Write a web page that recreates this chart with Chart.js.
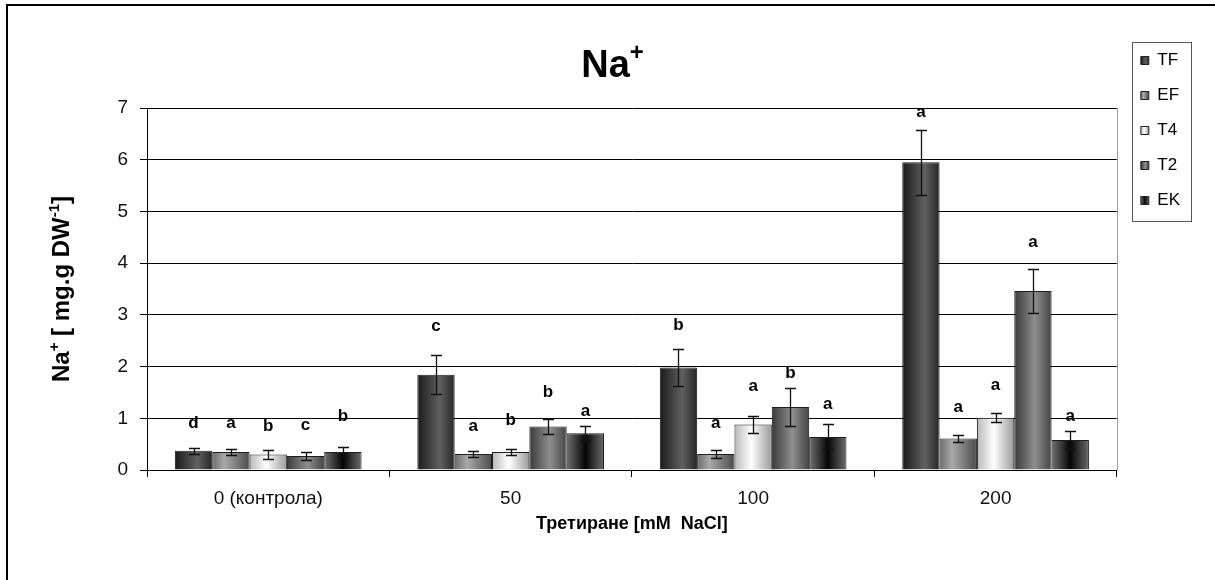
<!DOCTYPE html>
<html><head><meta charset="utf-8">
<script src="https://cdn.jsdelivr.net/npm/chart.js@4.4.1/dist/chart.umd.min.js"></script>
<style>html,body{margin:0;padding:0;background:#fff}canvas{display:block}</style>
</head><body>
<canvas id="c" width="1215" height="580"></canvas>
<script>
// ---------- data ----------
const categories = ['0 (контрола)', '50', '100', '200'];
const seriesNames = ['TF', 'EF', 'T4', 'T2', 'EK'];
const TF = [0.37, 1.84, 1.98, 5.95];
const EF = [0.35, 0.31, 0.31, 0.61];
const T4 = [0.30, 0.35, 0.88, 1.01];
const T2 = [0.27, 0.84, 1.22, 3.46];
const EK = [0.35, 0.71, 0.64, 0.58];
const TF_err = [0.06, 0.38, 0.36, 0.63];
const EF_err = [0.06, 0.05, 0.07, 0.075];
const T4_err = [0.08, 0.065, 0.17, 0.09];
const T2_err = [0.07, 0.14, 0.37, 0.43];
const EK_err = [0.09, 0.14, 0.24, 0.18];
const TF_letters = ['d', 'c', 'b', 'a'];
const EF_letters = ['a', 'a', 'a', 'a'];
const T4_letters = ['b', 'b', 'a', 'a'];
const T2_letters = ['c', 'b', 'b', 'a'];
const EK_letters = ['b', 'a', 'a', 'a'];
// height (in axis units) at which each significance letter sits
const TF_letterAt = [0.91, 2.77, 2.80, 6.92];
const EF_letterAt = [0.90, 0.84, 0.90, 1.21];
const T4_letterAt = [0.85, 0.97, 1.62, 1.64];
const T2_letterAt = [0.87, 1.51, 1.87, 4.40];
const EK_letterAt = [1.03, 1.13, 1.27, 1.03];
const yTickLabels = ['0', '1', '2', '3', '4', '5', '6', '7'];
const xTitle = 'Третиране [mM  NaCl]';

const seriesValues = [TF, EF, T4, T2, EK];
const seriesErrors = [TF_err, EF_err, T4_err, T2_err, EK_err];
const seriesLetters = [TF_letters, EF_letters, T4_letters, T2_letters, EK_letters];
const seriesLetterAt = [TF_letterAt, EF_letterAt, T4_letterAt, T2_letterAt, EK_letterAt];

// ---------- styles ----------
const FONT = '"Liberation Sans", Arial, sans-serif';
const CAT_PCT = 0.77;
const LEGEND_PAD = 18;
const LEGEND_BOX = 8;
const gradStops = [
  [[0, '#1a1a1a'], [0.6, '#606060'], [1, '#262626']],
  [[0, '#6c6c6c'], [0.33, '#a9a9a9'], [1, '#4c4c4c']],
  [[0, '#b8b8b8'], [0.45, '#ffffff'], [1, '#9a9a9a']],
  [[0, '#3a3a3a'], [0.55, '#8e8e8e'], [1, '#444444']],
  [[0, '#717171'], [0.5, '#050505'], [1, '#6c6c6c']]
];

function makeGradient(c, x0, x1, stops) {
  if (!isFinite(x0) || !isFinite(x1) || x1 === x0) return stops[1][1];
  const g = c.createLinearGradient(x0, 0, x1, 0);
  stops.forEach(s => g.addColorStop(s[0], s[1]));
  return g;
}

function barFill(ctx) {
  const chart = ctx.chart;
  const xs = chart.scales && chart.scales.x;
  const stops = gradStops[ctx.datasetIndex];
  if (!xs || !chart.chartArea || ctx.dataIndex === undefined) return stops[1][1];
  const catW = xs.width / categories.length;
  const groupW = catW * CAT_PCT;
  const barW = groupW / seriesNames.length;
  const left = xs.getPixelForValue(ctx.dataIndex) - groupW / 2 + ctx.datasetIndex * barW;
  return makeGradient(chart.ctx, left, left + barW, stops);
}

const decor = {
  id: 'decor',
  afterLayout(chart) {
    const lg = chart.legend, ca = chart.chartArea;
    if (!lg) return;
    const w = lg.width, h = lg.height;
    lg.left = ca.right + 6; lg.right = lg.left + w;
    lg.top = ca.top - 74; lg.bottom = lg.top + h;
  },
  afterDatasetsDraw(chart) {
    const c = chart.ctx, ys = chart.scales.y;
    chart.data.datasets.forEach((ds, di) => {
      const meta = chart.getDatasetMeta(di);
      meta.data.forEach((bar, i) => {
        const v = ds.data[i], e = seriesErrors[di][i];
        const yTop = Math.round(ys.getPixelForValue(v + e)) + 0.5;
        const yBot = Math.round(ys.getPixelForValue(v - e)) + 0.5;
        const x = Math.round(bar.x) + 0.5;
        c.save();
        c.strokeStyle = '#111';
        c.lineWidth = 1.3;
        c.beginPath();
        c.moveTo(x, yTop); c.lineTo(x, yBot);
        c.moveTo(x - 5.5, yTop); c.lineTo(x + 5.5, yTop);
        c.moveTo(x - 5.5, yBot); c.lineTo(x + 5.5, yBot);
        c.stroke();
        c.font = 'bold 17px ' + FONT;
        c.fillStyle = '#000';
        c.textAlign = 'center';
        c.textBaseline = 'middle';
        c.fillText(seriesLetters[di][i], bar.x, ys.getPixelForValue(seriesLetterAt[di][i]));
        c.restore();
      });
    });
  },
  afterDraw(chart) {
    const c = chart.ctx, ca = chart.chartArea;
    c.save();
    c.strokeStyle = '#9a9a9a';
    c.lineWidth = 1;
    c.beginPath();
    c.moveTo(Math.round(ca.right) + 0.5, ca.top);
    c.lineTo(Math.round(ca.right) + 0.5, ca.bottom);
    c.stroke();
    const lg = chart.legend;
    if (lg && lg.legendHitBoxes && lg.legendHitBoxes.length) {
      const hb = lg.legendHitBoxes;
      const l = Math.round(hb[0].left - 9) + 0.5;
      const t = Math.round(hb[0].top - 10) + 0.5;
      const last = hb[hb.length - 1];
      const b = Math.round(last.top + last.height + 12) + 0.5;
      c.strokeStyle = '#555';
      c.strokeRect(l, t, 59, b - t);
    }
    c.fillStyle = '#000';
    c.fillRect(6, 4, 2, chart.height - 4);
    c.fillRect(6, 4, chart.width - 6, 2);
    c.fillStyle = '#000';
    c.textBaseline = 'alphabetic';
    c.textAlign = 'left';
    c.font = 'bold 38px ' + FONT;
    const wNa = c.measureText('Na').width;
    c.font = 'bold 24px ' + FONT;
    const wPlus = c.measureText('+').width;
    const tx = chart.width / 2 + 5 - (wNa + wPlus) / 2;
    const ty = ca.top - 31;
    c.font = 'bold 38px ' + FONT;
    c.fillText('Na', tx, ty);
    c.font = 'bold 24px ' + FONT;
    c.fillText('+', tx + wNa, ty - 17);
    const parts = [
      ['Na', 24, 0], ['+', 15, 10], [' [ mg.g DW', 24, 0], ['-1', 15, 10], [']', 24, 0]
    ];
    let total = 0;
    parts.forEach(p => { c.font = 'bold ' + p[1] + 'px ' + FONT; p[3] = c.measureText(p[0]).width; total += p[3]; });
    c.translate(ca.left - 78, (ca.top + ca.bottom) / 2);
    c.rotate(-Math.PI / 2);
    let px = -total / 2;
    parts.forEach(p => {
      c.font = 'bold ' + p[1] + 'px ' + FONT;
      c.fillText(p[0], px, -p[2]);
      px += p[3];
    });
    c.restore();
  }
};

new Chart(document.getElementById('c'), {
  type: 'bar',
  data: {
    labels: categories,
    datasets: seriesNames.map((name, i) => ({
      label: name,
      data: seriesValues[i],
      backgroundColor: barFill,
      borderColor: '#1e1e1e',
      borderWidth: 1,
      categoryPercentage: CAT_PCT,
      barPercentage: 1.0
    }))
  },
  options: {
    responsive: false,
    animation: false,
    devicePixelRatio: 1,
    events: [],
    layout: { padding: { left: 0, top: 108, right: 31, bottom: 42 } },
    plugins: {
      title: { display: false },
      tooltip: { enabled: false },
      legend: {
        position: 'right',
        align: 'start',
        labels: {
          boxWidth: LEGEND_BOX,
          boxHeight: LEGEND_BOX,
          padding: LEGEND_PAD,
          color: '#000',
          font: { family: FONT, size: 17 },
          generateLabels(chart) {
            const lg = chart.legend;
            const bx = (lg && isFinite(lg.left)) ? lg.left + LEGEND_PAD : NaN;
            return chart.data.datasets.map((ds, i) => ({
              text: ds.label,
              fillStyle: makeGradient(chart.ctx, bx, bx + LEGEND_BOX, gradStops[i]),
              strokeStyle: '#222',
              lineWidth: 1,
              hidden: false,
              datasetIndex: i,
              fontColor: '#000'
            }));
          }
        }
      }
    },
    scales: {
      x: {
        afterFit(scale) { scale.height = 68; },
        grid: { display: true, drawOnChartArea: false, drawTicks: true, tickLength: 7, color: '#000', offset: true },
        border: { color: '#000', width: 1 },
        ticks: { color: '#111', font: { family: FONT, size: 19 }, padding: 10, maxRotation: 0 },
        title: { display: true, text: xTitle, color: '#000', font: { family: FONT, size: 18, weight: 'bold' }, padding: { top: 0, bottom: 3 } }
      },
      y: {
        min: 0, max: 7,
        afterFit(scale) { scale.width = 147; },
        grid: { color: '#000', lineWidth: 1, drawTicks: true, tickLength: 7 },
        border: { color: '#000', width: 1 },
        ticks: {
          stepSize: 1,
          color: '#111',
          padding: 12,
          font: { family: FONT, size: 19 },
          callback: (v) => yTickLabels[v]
        }
      }
    }
  },
  plugins: [decor]
});
</script>
</body></html>
